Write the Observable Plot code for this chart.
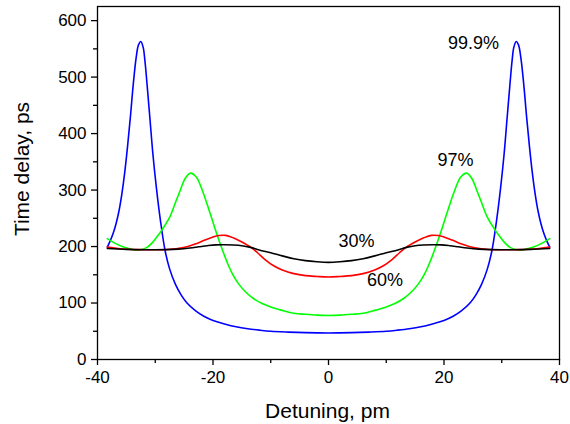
<!DOCTYPE html>
<html><head><meta charset="utf-8">
<script src="https://cdn.jsdelivr.net/npm/d3@7"></script>
<script src="https://cdn.jsdelivr.net/npm/@observablehq/plot@0.6"></script>
<style>body{margin:0;background:#fff} svg{font-family:"Liberation Sans",Arial,sans-serif}</style>
</head><body><div id="chart"></div><script>
// Detuning (pm) and time delay (ps), per series
const blueX = [-38.3,-37.8,-37.3,-36.8,-36.3,-35.8,-35.3,-34.8,-34.3,-33.8,-33.3,-32.9,-32.5,-32.1,-31.8,-31.4,-30.9,-30.4,-29.8,-29.1,-28.3,-27.5,-26.5,-25.5,-24.5,-23,-21.5,-20,-18,-16,-14,-12,-10,-7,-4,
  0,4,7,10,12,14,16,18,20,21.5,23,24.5,25.5,26.5,27.5,28.3,29.1,29.8,30.4,30.9,31.4,31.8,32.1,32.5,32.9,33.3,33.8,34.3,34.8,35.3,35.8,36.3,36.8,37.3,37.8,38.3];
const blueY = [199,210,223,240,262,292,330,377,430,488,535,557,563,553,530,485,424,363,304,246,193,160,133,114,100,86,76,69,63,58,54.5,52,50,48.5,47.5,
  47,47.5,48.5,50,52,54.5,58,63,69,76,86,100,114,133,160,193,246,304,363,424,485,530,553,563,557,535,488,430,377,330,292,262,240,223,210,199];

const greenX = [-38.3,-37,-35.5,-34,-32.9,-31.5,-30.5,-29.5,-28.8,-27.5,-26.5,-25.8,-24.8,-23.9,-22.9,-21.8,-20.6,-19.5,-18.3,-17.3,-16.5,-15.5,-14.3,-13,-11.5,-10,-8,-6,-4,-2,
  0,2,4,6,8,10,11.5,13,14.3,15.5,16.5,17.3,18.3,19.5,20.6,21.8,22.9,23.9,24.8,25.8,26.5,27.5,28.8,29.5,30.5,31.5,32.9,34,35.5,37,38.3];
const greenY = [214,206,199,195,194,198,207,220,230,252,278,296,321,330,323,298,262,227,192,166,149,133,119,108,99,93,87,82,80,78.5,
  78,78.5,80,82,87,93,99,108,119,133,149,166,192,227,262,298,323,330,321,296,278,252,230,220,207,198,194,195,199,206,214];

const redX = [-38.3,-36,-33,-30,-28,-26.4,-24.5,-22.9,-21.5,-20.1,-19,-17.8,-16.5,-15,-13.5,-12.3,-11,-9.5,-8,-6,-4,-2,
  0,2,4,6,8,9.5,11,12.3,13.5,15,16.5,17.8,19,20.1,21.5,22.9,24.5,26.4,28,30,33,36,38.3];
const redY = [199,196,194.5,194.3,194.8,196,199.5,205,211,216.5,219.5,219.8,215.5,208,199,189,177,166,158.5,152,148.5,147,
  146,147,148.5,152,158.5,166,177,189,199,208,215.5,219.8,219.5,216.5,211,205,199.5,196,194.8,194.3,194.5,196,199];

const blackX = [-38.3,-35,-32,-30,-28,-26,-24,-22.5,-21,-19.5,-18,-16.5,-15,-13.5,-12,-10,-8,-6,-4,-2,
  0,2,4,6,8,10,12,13.5,15,16.5,18,19.5,21,22.5,24,26,28,30,32,35,38.3];
const blackY = [196.5,195,194.3,194.2,194.5,195.5,197.5,199.5,201.5,203,203.2,202.8,201.5,198.5,194,189,183.5,178.5,175,173,
  172,173,175,178.5,183.5,189,194,198.5,201.5,202.8,203.2,203,201.5,199.5,197.5,195.5,194.5,194.2,194.3,195,196.5];

const seriesNames = ["99.9%","97%","60%","30%"];
const seriesColors = ["#0000ff","#00ff00","#ff0000","#000000"];

// Curve labels
const labelText = ["99.9%","97%","30%","60%"];
const labelX = [25.1,22.0,4.85,9.8];
const labelY = [560,353,210,140];

// Axis ticks
const xMajor = [-40,-20,0,20,40];
const xMinor = [-30,-10,10,30];
const yMajor = [0,100,200,300,400,500,600];
const yMinor = [50,150,250,350,450,550];

const seriesXs = [blueX, greenX, redX, blackX];
const seriesYs = [blueY, greenY, redY, blackY];
const rows = seriesNames.flatMap((name, i) => seriesXs[i].map((x, j) => ({name, x, y: seriesYs[i][j]})));
const labels = labelText.map((t, i) => ({t, x: labelX[i], y: labelY[i]}));

const font = "'Liberation Sans', Arial, sans-serif";
const chart = Plot.plot({
  width: 570, height: 424,
  marginLeft: 97, marginRight: 11, marginTop: 6, marginBottom: 65,
  style: {fontFamily: font, fontSize: "17px", color: "#000", background: "#fff", overflow: "visible"},
  x: {domain: [-40, 40]},
  y: {domain: [0, 625]},
  color: {domain: seriesNames, range: seriesColors},
  marks: [
    Plot.line(rows, {x: "x", y: "y", z: "name", stroke: "name", strokeWidth: 1.6, curve: "catmull-rom"}),
    Plot.text(labels, {x: "x", y: "y", text: "t", fontSize: 18, fill: "#000"}),
    Plot.axisX({ticks: xMajor, tickSize: 6, tickPadding: 5, tickFormat: d => String(d), label: null, fontSize: 17, strokeWidth: 1.3}),
    Plot.axisX({ticks: xMinor, tickSize: 4, text: null, label: null, strokeWidth: 1.3}),
    Plot.axisY({ticks: yMajor, tickSize: 6, tickPadding: 5, tickFormat: d => String(d), label: null, fontSize: 17, strokeWidth: 1.3}),
    Plot.axisY({ticks: yMinor, tickSize: 4, text: null, label: null, strokeWidth: 1.3}),
    Plot.frame({stroke: "#000", strokeWidth: 1.3}),
    Plot.text(["Detuning, pm"], {frameAnchor: "bottom", dy: 52, dx: -1, lineAnchor: "middle", textAnchor: "middle", fontSize: 21, fill: "#000"}),
    Plot.text(["Time delay, ps"], {frameAnchor: "left", dx: -75, dy: -14, rotate: -90, lineAnchor: "middle", textAnchor: "middle", fontSize: 21, fill: "#000"})
  ]
});
document.getElementById("chart").appendChild(chart);
</script></body></html>
